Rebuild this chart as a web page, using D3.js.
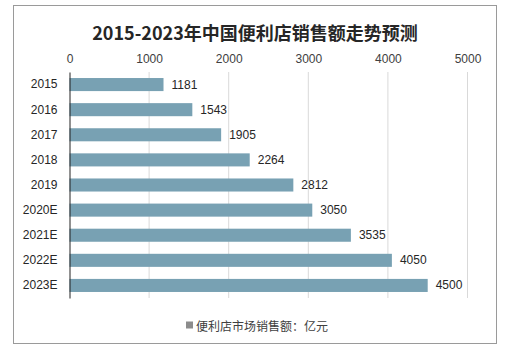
<!DOCTYPE html>
<html>
<head>
<meta charset="utf-8">
<script src="https://cdn.jsdelivr.net/npm/d3@7"></script>
<style>
  html, body { margin: 0; padding: 0; background: #fff; }
  svg { display: block; }
</style>
</head>
<body>
<svg id="chart" width="512" height="347"></svg>
<script>
// Convenience-store sales in China, 2015-2023 (E = estimate), unit: 亿元
const years = ["2015", "2016", "2017", "2018", "2019", "2020E", "2021E", "2022E", "2023E"];
const sales = [1181, 1543, 1905, 2264, 2812, 3050, 3535, 4050, 4500];
const xTicks = [0, 1000, 2000, 3000, 4000, 5000];
const titleText = "2015-2023年中国便利店销售额走势预测";
const legendText = "便利店市场销售额：亿元";

const svg = d3.select("#chart");
const font = "'Liberation Sans', Arial, 'Noto Sans CJK SC', sans-serif";
const barColor = "#78a1b3";

// Outer frame
svg.append("rect")
  .attr("x", 13.5).attr("y", 5.5)
  .attr("width", 483).attr("height", 338)
  .attr("fill", "#fff").attr("stroke", "#9a9a9a").attr("stroke-width", 1);

// Title
svg.append("text")
  .attr("x", 255).attr("y", 32)
  .attr("text-anchor", "middle").attr("dominant-baseline", "central")
  .attr("font-family", "'Noto Sans CJK SC', sans-serif")
  .attr("font-weight", "bold").attr("font-size", 18)
  .attr("fill", "#262626")
  .text(titleText);

const plot = { left: 69.5, right: 467.5, top: 72, bottom: 298 };

const x = d3.scaleLinear().domain([0, 5000]).range([plot.left, plot.right]);
const y = d3.scaleBand().domain(years).range([plot.top, plot.bottom]).paddingInner(0.48).paddingOuter(0.24);

// Vertical gridlines
svg.append("g").selectAll("line")
  .data(xTicks.filter(d => d > 0))
  .join("line")
  .attr("x1", d => x(d)).attr("x2", d => x(d))
  .attr("y1", plot.top).attr("y2", plot.bottom)
  .attr("stroke", "#d9d9d9").attr("stroke-width", 1);

// Top value axis (labels only)
const xAxis = svg.append("g")
  .attr("transform", `translate(0,${plot.top})`)
  .call(d3.axisTop(x).tickValues(xTicks).tickFormat(d3.format("d")).tickSize(0).tickPadding(9));
xAxis.select(".domain").remove();
xAxis.selectAll("text")
  .attr("font-family", font).attr("font-size", 12).attr("fill", "#404040");

// Bars
svg.append("g").selectAll("rect")
  .data(years.map((c, i) => ({ c, v: sales[i] })))
  .join("rect")
  .attr("x", x(0))
  .attr("y", d => y(d.c))
  .attr("width", d => x(d.v) - x(0))
  .attr("height", y.bandwidth())
  .attr("fill", barColor);

// Value labels
svg.append("g").selectAll("text")
  .data(years.map((c, i) => ({ c, v: sales[i] })))
  .join("text")
  .attr("x", d => x(d.v) + 8)
  .attr("y", d => y(d.c) + y.bandwidth() / 2)
  .attr("dominant-baseline", "central")
  .attr("font-family", font).attr("font-size", 12).attr("fill", "#262626")
  .text(d => d.v);

// Category axis
const yAxis = svg.append("g")
  .attr("transform", `translate(${plot.left},0)`)
  .call(d3.axisLeft(y).tickSize(0).tickPadding(12));
yAxis.select(".domain").attr("stroke", "#222").attr("stroke-width", 1);
yAxis.selectAll("text")
  .attr("font-family", font).attr("font-size", 12).attr("fill", "#262626");

// Legend
const legend = svg.append("g");
legend.append("rect")
  .attr("x", 186).attr("y", 321.5)
  .attr("width", 7).attr("height", 7)
  .attr("fill", "#8c8c8c");
legend.append("text")
  .attr("x", 196).attr("y", 325)
  .attr("dominant-baseline", "central")
  .attr("font-family", "'Noto Sans CJK SC', sans-serif")
  .attr("font-size", 12).attr("fill", "#404040")
  .text(legendText);
</script>
</body>
</html>
